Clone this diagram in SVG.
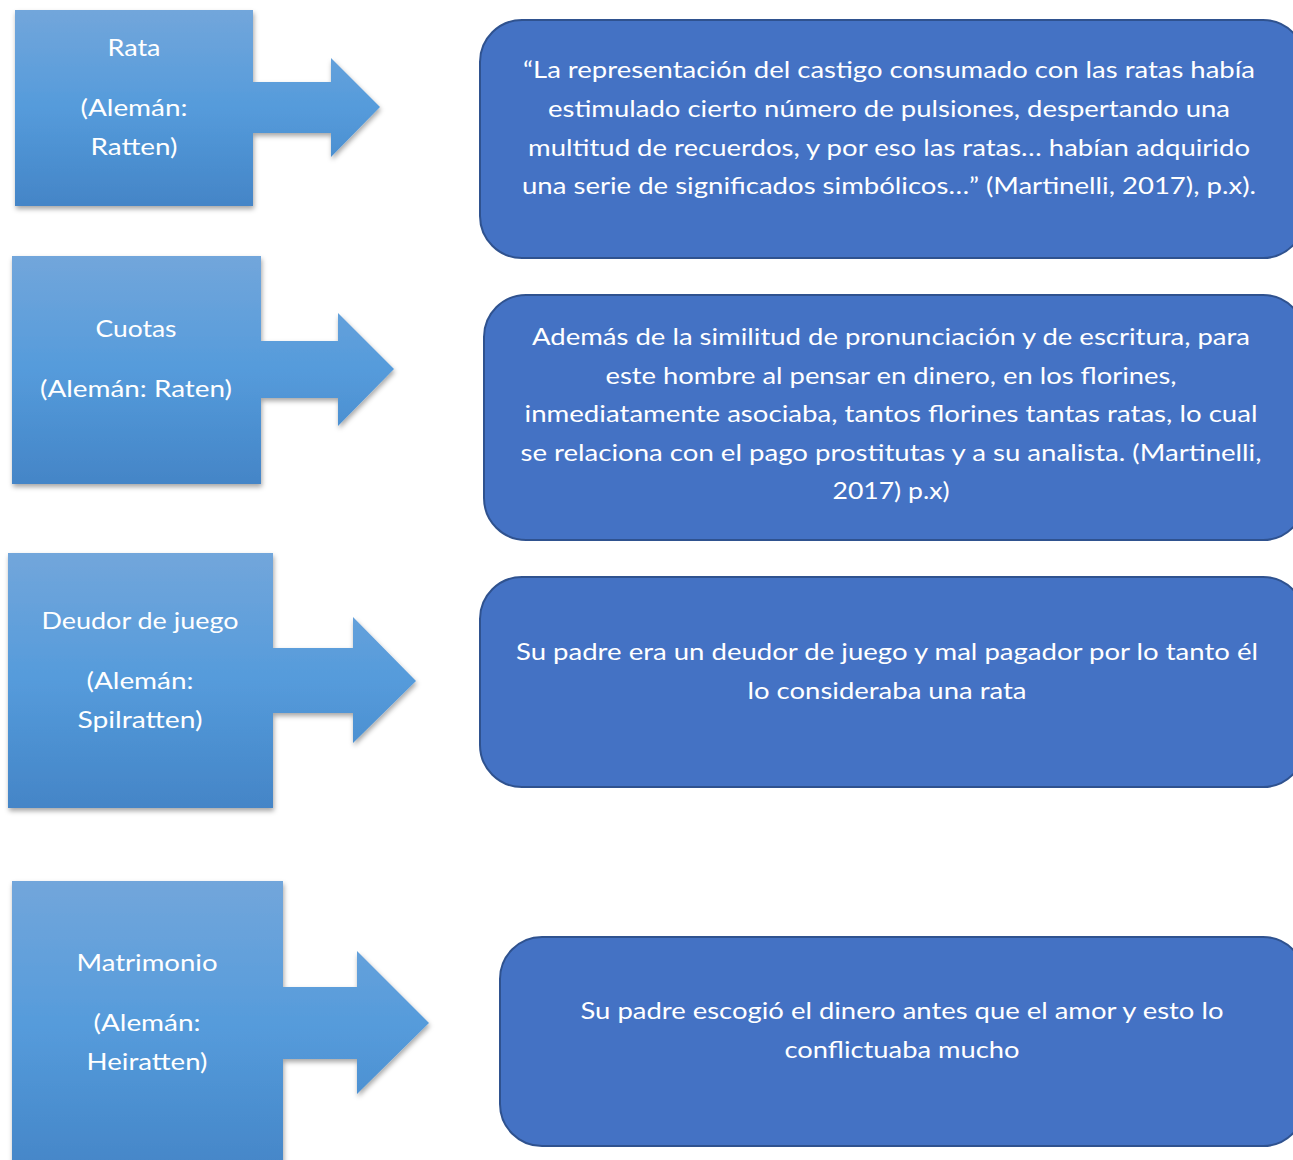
<svg xmlns="http://www.w3.org/2000/svg" width="1293" height="1160" viewBox="0 0 1293 1160">
<defs>
<linearGradient id="g" x1="0" y1="0" x2="0" y2="1">
<stop offset="0" stop-color="#72A6DB"/>
<stop offset="0.5" stop-color="#559BDB"/>
<stop offset="1" stop-color="#4485C7"/>
</linearGradient>
<filter id="sh" x="-10%" y="-10%" width="125%" height="125%">
<feDropShadow dx="1" dy="3" stdDeviation="2.5" flood-color="#000" flood-opacity="0.35"/>
</filter>
</defs>
<style>
.call{fill:url(#g);filter:url(#sh);}
.box{fill:#4472C4;stroke:#2F528F;stroke-width:2;}
text{font-family:Lato,"Open Sans","Liberation Sans",sans-serif;font-size:24px;fill:#FFFFFF;text-anchor:middle;}
</style>
<rect width="1293" height="1160" fill="#FFFFFF"/>
<g id="node-rata">
<path class="call" d="M15,10 H253 V82 H331 V58 L380,107 L331,157 V133 H253 V206 H15 Z"/>
<text x="134" y="56" textLength="53" lengthAdjust="spacingAndGlyphs">Rata</text>
<text x="134" y="116" textLength="107" lengthAdjust="spacingAndGlyphs">(Alemán:</text>
<text x="134" y="155" textLength="87" lengthAdjust="spacingAndGlyphs">Ratten)</text>
</g>
<g id="node-cuotas">
<path class="call" d="M12,256 H261 V341 H338 V313 L394,369 L338,426 V398 H261 V484 H12 Z"/>
<text x="136" y="337" textLength="81" lengthAdjust="spacingAndGlyphs">Cuotas</text>
<text x="136" y="397" textLength="192" lengthAdjust="spacingAndGlyphs">(Alemán: Raten)</text>
</g>
<g id="node-deudor">
<path class="call" d="M8,553 H273 V648 H353 V617 L416,681 L353,743 V713 H273 V808 H8 Z"/>
<text x="140" y="629" textLength="197" lengthAdjust="spacingAndGlyphs">Deudor de juego</text>
<text x="140" y="689" textLength="107" lengthAdjust="spacingAndGlyphs">(Alemán:</text>
<text x="140" y="728" textLength="125" lengthAdjust="spacingAndGlyphs">Spilratten)</text>
</g>
<g id="node-matrimonio">
<path class="call" d="M12,881 H283 V987 H357 V951 L429,1023 L357,1094 V1059 H283 V1175 H12 Z"/>
<text x="147" y="971" textLength="141" lengthAdjust="spacingAndGlyphs">Matrimonio</text>
<text x="147" y="1031" textLength="107" lengthAdjust="spacingAndGlyphs">(Alemán:</text>
<text x="147" y="1070" textLength="121" lengthAdjust="spacingAndGlyphs">Heiratten)</text>
</g>
<g id="node-box1">
<rect class="box" x="480" y="20" width="825" height="238" rx="42" ry="42"/>
<text x="889" y="78" textLength="732" lengthAdjust="spacingAndGlyphs">“La representación del castigo consumado con las ratas había</text>
<text x="889" y="117" textLength="682" lengthAdjust="spacingAndGlyphs">estimulado cierto número de pulsiones, despertando una</text>
<text x="889" y="156" textLength="722" lengthAdjust="spacingAndGlyphs">multitud de recuerdos, y por eso las ratas… habían adquirido</text>
<text x="889" y="194" textLength="734" lengthAdjust="spacingAndGlyphs">una serie de significados simbólicos…” (Martinelli, 2017), p.x).</text>
</g>
<g id="node-box2">
<rect class="box" x="484" y="295" width="821" height="245" rx="42" ry="42"/>
<text x="891" y="345" textLength="718" lengthAdjust="spacingAndGlyphs">Además de la similitud de pronunciación y de escritura, para</text>
<text x="891" y="384" textLength="571" lengthAdjust="spacingAndGlyphs">este hombre al pensar en dinero, en los florines,</text>
<text x="891" y="422" textLength="733" lengthAdjust="spacingAndGlyphs">inmediatamente asociaba, tantos florines tantas ratas, lo cual</text>
<text x="891" y="461" textLength="741" lengthAdjust="spacingAndGlyphs">se relaciona con el pago prostitutas y a su analista. (Martinelli,</text>
<text x="891" y="499" textLength="117" lengthAdjust="spacingAndGlyphs">2017) p.x)</text>
</g>
<g id="node-box3">
<rect class="box" x="480" y="577" width="825" height="210" rx="42" ry="42"/>
<text x="887" y="660" textLength="742" lengthAdjust="spacingAndGlyphs">Su padre era un deudor de juego y mal pagador por lo tanto él</text>
<text x="887" y="699" textLength="279" lengthAdjust="spacingAndGlyphs">lo consideraba una rata</text>
</g>
<g id="node-box4">
<rect class="box" x="500" y="937" width="805" height="209" rx="42" ry="42"/>
<text x="902" y="1019" textLength="643" lengthAdjust="spacingAndGlyphs">Su padre escogió el dinero antes que el amor y esto lo</text>
<text x="902" y="1058" textLength="235" lengthAdjust="spacingAndGlyphs">conflictuaba mucho</text>
</g>
<g id="connectors"></g>
</svg>
